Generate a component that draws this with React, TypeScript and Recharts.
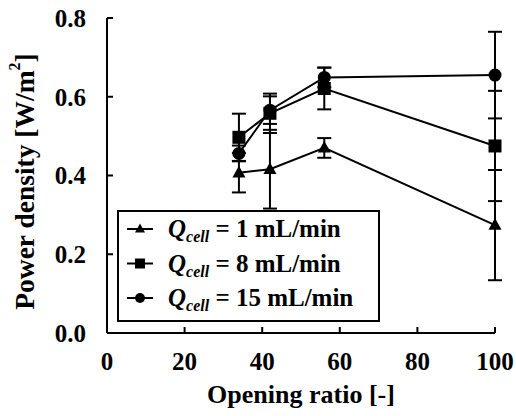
import { LineChart, Line, XAxis, YAxis, ErrorBar, Legend } from 'recharts'

const openingRatio = [34, 42, 56, 100]

const q1Values = [0.407, 0.416, 0.47, 0.274]
const q1Errors = [0.05, 0.1, 0.025, 0.14]

const q8Values = [0.497, 0.558, 0.621, 0.475]
const q8Errors = [0.06, 0.05, 0.053, 0.14]

const q15Values = [0.456, 0.566, 0.649, 0.655]
const q15Errors = [0.02, 0.035, 0.025, 0.11]

const xTicks = [0, 20, 40, 60, 80, 100]
const yTicks = [0, 0.2, 0.4, 0.6, 0.8]

const FONT = 'Liberation Serif'
const serifBold = { fontFamily: FONT, fontWeight: 700 }

type Shape = 'triangle' | 'square' | 'circle'

const toRows = (values: number[], errors: number[]) =>
    openingRatio.map((x, i) => ({ x, y: values[i], err: errors[i] }))

const series = [
    { name: 'Q1', label: '= 1 mL/min', shape: 'triangle' as Shape, data: toRows(q1Values, q1Errors) },
    { name: 'Q8', label: '= 8 mL/min', shape: 'square' as Shape, data: toRows(q8Values, q8Errors) },
    { name: 'Q15', label: '= 15 mL/min', shape: 'circle' as Shape, data: toRows(q15Values, q15Errors) },
]

function Marker({ shape, cx, cy, s }: { shape: Shape; cx: number; cy: number; s: number }) {
    if (shape === 'circle') return <circle cx={cx} cy={cy} r={s / 2} fill="#000" />
    if (shape === 'square') return <rect x={cx - s / 2} y={cy - s / 2} width={s} height={s} fill="#000" />
    const h = s * 0.9
    return (
        <polygon
            points={`${cx},${cy - h * 0.6} ${cx - s / 2},${cy + h * 0.4} ${cx + s / 2},${cy + h * 0.4}`}
            fill="#000"
        />
    )
}

const makeDot = (shape: Shape) => (props: any) => {
    const { cx, cy, index } = props
    if (cx == null || cy == null) return <g key={index} />
    return <Marker key={index} shape={shape} cx={cx} cy={cy} s={13} />
}

function LegendBox() {
    return (
        <svg width={263} height={112} style={{ display: 'block' }}>
            <rect x={1} y={1} width={261} height={110} fill="#fff" stroke="#000" strokeWidth={2} />
            {series.map((s, i) => {
                const base = 27 + i * 34.5
                const my = base - 8
                return (
                    <g key={s.name}>
                        <line x1={10} x2={36} y1={my} y2={my} stroke="#000" strokeWidth={2} />
                        <Marker shape={s.shape} cx={23} cy={my} s={10} />
                        <text x={51} y={base} style={{ ...serifBold, fontSize: 25 }} fill="#000">
                            <tspan style={{ fontStyle: 'italic' }}>Q</tspan>
                            <tspan style={{ fontStyle: 'italic', fontSize: 16 }} dy={5}>cell</tspan>
                            <tspan dy={-5}> {s.label}</tspan>
                        </text>
                    </g>
                )
            })}
        </svg>
    )
}

const tickStyle = { fill: '#000', fontSize: 25, style: serifBold }

export default function App() {
    return (
        <div style={{ position: 'absolute', left: 0, top: 0, background: '#fff', fontFamily: FONT }}>
            <LineChart width={516} height={416} margin={{ top: 18, right: 21, left: 0, bottom: 0 }} style={{ fontFamily: FONT }}>
                <XAxis
                    dataKey="x"
                    type="number"
                    domain={[0, 100]}
                    ticks={xTicks}
                    allowDuplicatedCategory={false}
                    height={83}
                    stroke="#000"
                    strokeWidth={2}
                    tickSize={-6}
                    tickMargin={25}
                    tick={tickStyle}
                    label={{
                        value: 'Opening ratio [-]',
                        position: 'insideBottom',
                        offset: 13,
                        fill: '#000',
                        fontSize: 26,
                        style: serifBold,
                    }}
                />
                <XAxis xAxisId="top" orientation="top" type="number" domain={[0, 100]} height={0} tick={false} tickLine={false} stroke="#000" strokeWidth={2} />
                <YAxis
                    type="number"
                    domain={[0, 0.8]}
                    ticks={yTicks}
                    width={107}
                    stroke="#000"
                    strokeWidth={2}
                    tickSize={-6}
                    tickMargin={27}
                    tick={tickStyle}
                    tickFormatter={(v: number) => v.toFixed(1)}
                    label={(props: any) => {
                        const vb = props.viewBox || {}
                        const cx = 24
                        const cy = (vb.y ?? 18) + (vb.height ?? 315) / 2 + 6
                        return (
                            <text
                                x={cx}
                                y={cy}
                                transform={`rotate(-90, ${cx}, ${cy})`}
                                textAnchor="middle"
                                dominantBaseline="central"
                                style={{ ...serifBold, fontSize: 27.5 }}
                                fill="#000"
                            >
                                Power density [W/m<tspan style={{ fontSize: 16 }} dy={-10}>2</tspan><tspan dy={10}>]</tspan>
                            </text>
                        )
                    }}
                />
                <YAxis yAxisId="right" orientation="right" type="number" domain={[0, 0.8]} width={0} tick={false} tickLine={false} stroke="#000" strokeWidth={2} />
                <Legend
                    layout="vertical"
                    align="center"
                    verticalAlign="middle"
                    wrapperStyle={{ position: 'absolute', left: 117, top: 210, width: 263, height: 112 }}
                    content={() => <LegendBox />}
                />
                {series.map((s) => (
                    <Line
                        key={s.name}
                        name={s.name}
                        data={s.data}
                        dataKey="y"
                        stroke="#000"
                        strokeWidth={2}
                        dot={makeDot(s.shape)}
                        activeDot={false}
                        legendType="none"
                        isAnimationActive={false}
                    >
                        <ErrorBar dataKey="err" direction="y" width={7} stroke="#000" strokeWidth={2} isAnimationActive={false} />
                    </Line>
                ))}
            </LineChart>
        </div>
    )
}
